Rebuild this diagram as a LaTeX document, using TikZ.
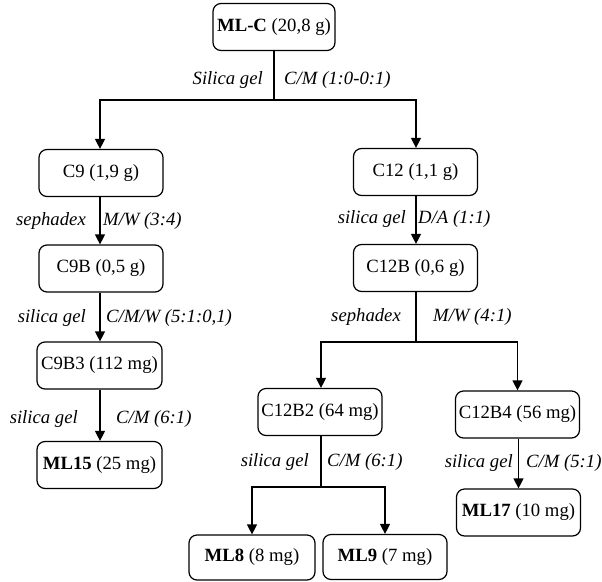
\documentclass[tikz,border=0pt]{standalone}
\usepackage{fontspec}
\setmainfont{Liberation Serif}
\usetikzlibrary{arrows.meta}
\begin{document}
\begin{tikzpicture}[x=1pt,y=-1pt,
  font=\fontsize{18.7}{22}\selectfont,
  box/.style={draw, line width=1.2pt, rounded corners=8pt, inner sep=0pt,
              minimum width=124pt, minimum height=47pt},
  lab/.style={inner sep=0pt, font=\fontsize{18.7}{22}\selectfont\itshape},
  link/.style={line width=1.2pt},
  arr/.style={line width=1.2pt, -{Triangle[length=10pt,width=10pt]}}]
\useasboundingbox (0,0) rectangle (602,581);

% fractions
\node[box, minimum width=122pt] (mlc)   at (274,27)    {\textbf{ML-C} (20,8 g)};
\node[box] (c9)    at (101,173)   {C9 (1,9 g)};
\node[box] (c9b)   at (101,268.5) {C9B (0,5 g)};
\node[box, minimum width=125pt] (c9b3)  at (99.5,365.5) {C9B3 (112 mg)};
\node[box, minimum width=125pt] (ml15)  at (99.5,465)   {\textbf{ML15} (25 mg)};
\node[box] (c12)   at (415.5,172) {C12 (1,1 g)};
\node[box] (c12b)  at (415.5,268) {C12B (0,6 g)};
\node[box] (c12b2) at (320,412)   {C12B2 (64 mg)};
\node[box] (c12b4) at (517.5,414.5) {C12B4 (56 mg)};
\node[box] (ml17)  at (518.5,512.5) {\textbf{ML17} (10 mg)};
\node[box, minimum width=126pt, minimum height=45pt] (ml8) at (252,557.5) {\textbf{ML8} (8 mg)};
\node[box, minimum height=45pt] (ml9) at (385,557) {\textbf{ML9} (7 mg)};

% branch points and vertical guides
\coordinate (s1) at (274,100);
\coordinate (s2) at (416,342);
\coordinate (s3) at (321,487);
\coordinate (v9) at (100,0);

% connectors
\draw[link] (mlc.south) -- (s1);
\draw[arr] (s1) -| (c9.north -| v9);
\draw[arr] (s1) -| (c12.north -| s2);
\draw[arr] (c9.south -| v9) -- (c9b.north -| v9);
\draw[arr] (c9b.south -| v9) -- (c9b3.north -| v9);
\draw[arr] (c9b3.south -| v9) -- (ml15.north -| v9);
\draw[arr] (c12.south -| s2) -- (c12b.north -| s2);
\draw[link] (c12b.south -| s2) -- (s2);
\draw[arr] (s2) -| (c12b2.north -| s3);
\draw[arr] (s2) -| (c12b4.north);
\draw[link] (c12b2.south -| s3) -- (s3);
\draw[arr] (s3) -| (ml8.north);
\draw[arr] (s3) -| (ml9.north);
\draw[arr] (c12b4.south -| ml17) -- (ml17.north);

% separation conditions
\node[lab, anchor=east] (l1a) at (263,80)  {Silica gel};
\node[lab, anchor=west] (l1b) at (284,80)  {C/M (1:0-0:1)};
\node[lab, anchor=east] (l2a) at (86,221)  {sephadex};
\node[lab, anchor=west] (l2b) at (103,221) {M/W (3:4)};
\node[lab, anchor=east] (l3a) at (86,318)  {silica gel};
\node[lab, anchor=west] (l3b) at (106,318) {C/M/W (5:1:0,1)};
\node[lab, anchor=east] (l4a) at (78,419)  {silica gel};
\node[lab, anchor=west] (l4b) at (116,419) {C/M (6:1)};
\node[lab, anchor=east] (l5a) at (406,219) {silica gel};
\node[lab, anchor=west] (l5b) at (418,219) {D/A (1:1)};
\node[lab, anchor=east] (l6a) at (401,317) {sephadex};
\node[lab, anchor=west] (l6b) at (433,317) {M/W (4:1)};
\node[lab, anchor=east] (l7a) at (309,462) {silica gel};
\node[lab, anchor=west] (l7b) at (327,462) {C/M (6:1)};
\node[lab, anchor=east] (l8a) at (513,463) {silica gel};
\node[lab, anchor=west] (l8b) at (526,463) {C/M (5:1)};
\end{tikzpicture}
\end{document}
